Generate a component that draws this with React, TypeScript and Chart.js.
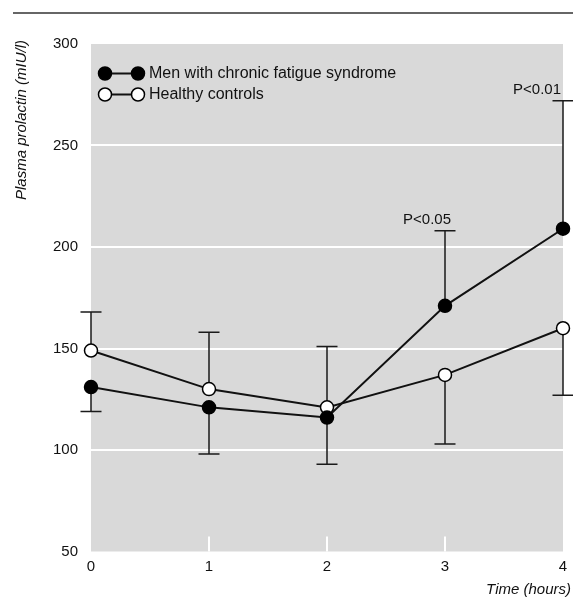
import React, { useEffect, useRef } from "react";
import { Chart, registerables } from "chart.js";

Chart.register(...registerables);

// ---- data ----
const hours = [0, 1, 2, 3, 4];
const cfsMean = [131, 121, 116, 171, 209];
const hcMean = [149, 130, 121, 137, 160];
// end value of each one-sided error bar
const cfsErrEnd = [119, 98, 93, 208, 272];
const hcErrEnd = [168, 158, 151, 103, 127];
const yTicks = [50, 100, 150, 200, 250, 300];
const seriesNames = ["Men with chronic fatigue syndrome", "Healthy controls"];
const pLabels = [
  { hour: 3, text: "P<0.05" },
  { hour: 4, text: "P<0.01" },
];
const yTitle = "Plasma prolactin (mIU/l)";
const xTitle = "Time (hours)";

const FONT = '"Liberation Sans Narrow", "Arial Narrow", "Liberation Sans", sans-serif';
const INK = "#111";

const decor = {
  id: "decor",
  beforeDraw(chart: any) {
    const { ctx, chartArea: a } = chart;
    ctx.save();
    ctx.fillStyle = "#d9d9d9";
    ctx.fillRect(a.left, a.top, a.right - a.left, a.bottom - a.top);
    ctx.restore();
  },
  beforeDatasetsDraw(chart: any) {
    const { ctx, chartArea: a, scales } = chart;
    const xs = scales.x;
    const ys = scales.y;
    ctx.save();
    // white inner tick marks at bottom
    ctx.strokeStyle = "#ffffff";
    ctx.lineWidth = 2;
    hours.forEach((h) => {
      if (h === hours[0] || h === hours[hours.length - 1]) return;
      const px = xs.getPixelForValue(h);
      ctx.beginPath();
      ctx.moveTo(px, a.bottom);
      ctx.lineTo(px, a.bottom - 15);
      ctx.stroke();
    });
    // error bars
    ctx.strokeStyle = "#1a1a1a";
    ctx.lineWidth = 1.5;
    const drawBar = (means: number[], ends: number[]) => {
      hours.forEach((h, i) => {
        const px = xs.getPixelForValue(h);
        const y0 = ys.getPixelForValue(means[i]);
        const y1 = ys.getPixelForValue(ends[i]);
        ctx.beginPath();
        ctx.moveTo(px, y0);
        ctx.lineTo(px, y1);
        ctx.moveTo(px - 10.5, y1);
        ctx.lineTo(px + 10.5, y1);
        ctx.stroke();
      });
    };
    drawBar(cfsMean, cfsErrEnd);
    drawBar(hcMean, hcErrEnd);
    ctx.restore();
  },
  afterDraw(chart: any) {
    const { ctx, chartArea: a, scales, width } = chart;
    const xs = scales.x;
    const ys = scales.y;
    ctx.save();
    // top rule
    ctx.strokeStyle = "#333";
    ctx.lineWidth = 1.5;
    ctx.beginPath();
    ctx.moveTo(13, 13);
    ctx.lineTo(width, 13);
    ctx.stroke();

    // legend
    const rows = [
      { y: a.top + 29.5, fill: "#000" },
      { y: a.top + 50.5, fill: "#fff" },
    ];
    rows.forEach((r, i) => {
      const x1 = a.left + 14;
      const x2 = a.left + 47;
      ctx.strokeStyle = INK;
      ctx.lineWidth = 2;
      ctx.beginPath();
      ctx.moveTo(x1, r.y);
      ctx.lineTo(x2, r.y);
      ctx.stroke();
      [x1, x2].forEach((cx) => {
        ctx.beginPath();
        ctx.arc(cx, r.y, 6.5, 0, Math.PI * 2);
        ctx.fillStyle = r.fill;
        ctx.fill();
        ctx.lineWidth = 1.5;
        ctx.strokeStyle = "#000";
        ctx.stroke();
      });
      ctx.fillStyle = INK;
      ctx.font = `16px ${FONT}`;
      ctx.textAlign = "left";
      ctx.textBaseline = "middle";
      ctx.fillText(seriesNames[i], a.left + 58, r.y);
    });

    // P labels
    ctx.font = `15px ${FONT}`;
    ctx.fillStyle = INK;
    ctx.textAlign = "right";
    ctx.textBaseline = "alphabetic";
    pLabels.forEach((p) => {
      const idx = hours.indexOf(p.hour);
      const px = xs.getPixelForValue(p.hour);
      const py = ys.getPixelForValue(cfsErrEnd[idx]);
      const dx = idx === hours.length - 1 ? -2 : 6;
      ctx.fillText(p.text, px + dx, py - 7);
    });

    // axis titles
    ctx.font = `italic 15px ${FONT}`;
    ctx.save();
    ctx.translate(22, 40);
    ctx.rotate(-Math.PI / 2);
    ctx.textAlign = "right";
    ctx.textBaseline = "middle";
    ctx.fillText(yTitle, 0, 0);
    ctx.restore();

    ctx.textAlign = "right";
    ctx.textBaseline = "middle";
    ctx.fillText(xTitle, 571, 590);
    ctx.restore();
  },
};

export default function App() {
  const ref = useRef<HTMLCanvasElement | null>(null);
  useEffect(() => {
    if (!ref.current) return;
    const chart = new Chart(ref.current, {
      type: "line",
      data: {
        datasets: [
          {
            label: seriesNames[0],
            data: hours.map((h, i) => ({ x: h, y: cfsMean[i] })),
            borderColor: INK,
            borderWidth: 2,
            pointRadius: 6.5,
            pointHoverRadius: 6.5,
            pointBackgroundColor: "#000",
            pointBorderColor: "#000",
            pointBorderWidth: 1.5,
            tension: 0,
            fill: false,
            clip: false,
          },
          {
            label: seriesNames[1],
            data: hours.map((h, i) => ({ x: h, y: hcMean[i] })),
            borderColor: INK,
            borderWidth: 2,
            pointRadius: 6.5,
            pointHoverRadius: 6.5,
            pointBackgroundColor: "#fff",
            pointBorderColor: "#000",
            pointBorderWidth: 1.5,
            tension: 0,
            fill: false,
            clip: false,
          },
        ],
      },
      options: {
        responsive: false,
        animation: false,
        events: [],
        layout: { padding: { left: 0, top: 44, right: 10, bottom: 0 } },
        plugins: { legend: { display: false }, tooltip: { enabled: false } },
        scales: {
          x: {
            type: "linear",
            min: hours[0],
            max: hours[hours.length - 1],
            grid: { display: false },
            border: { display: false },
            ticks: {
              stepSize: 1,
              padding: -2,
              color: INK,
              font: { family: FONT, size: 15 },
            },
            afterFit(scale: any) {
              scale.height = 51.5;
            },
          },
          y: {
            min: yTicks[0],
            max: yTicks[yTicks.length - 1],
            afterBuildTicks(scale: any) {
              scale.ticks = yTicks.map((v) => ({ value: v }));
            },
            grid: {
              drawTicks: false,
              lineWidth: 2,
              color: (c: any) =>
                c.tick && (c.tick.value === yTicks[0] || c.tick.value === yTicks[yTicks.length - 1])
                  ? "rgba(0,0,0,0)"
                  : "#ffffff",
            },
            border: { display: false },
            ticks: {
              padding: 13,
              color: INK,
              font: { family: FONT, size: 15 },
            },
            afterFit(scale: any) {
              scale.width = 91;
            },
          },
        },
      },
      plugins: [decor],
    });
    return () => chart.destroy();
  }, []);
  return (
    <div style={{ position: "fixed", left: 0, top: 0, width: 573, height: 603, background: "#fff" }}>
      <canvas ref={ref} width={573} height={603} style={{ display: "block" }} />
    </div>
  );
}
